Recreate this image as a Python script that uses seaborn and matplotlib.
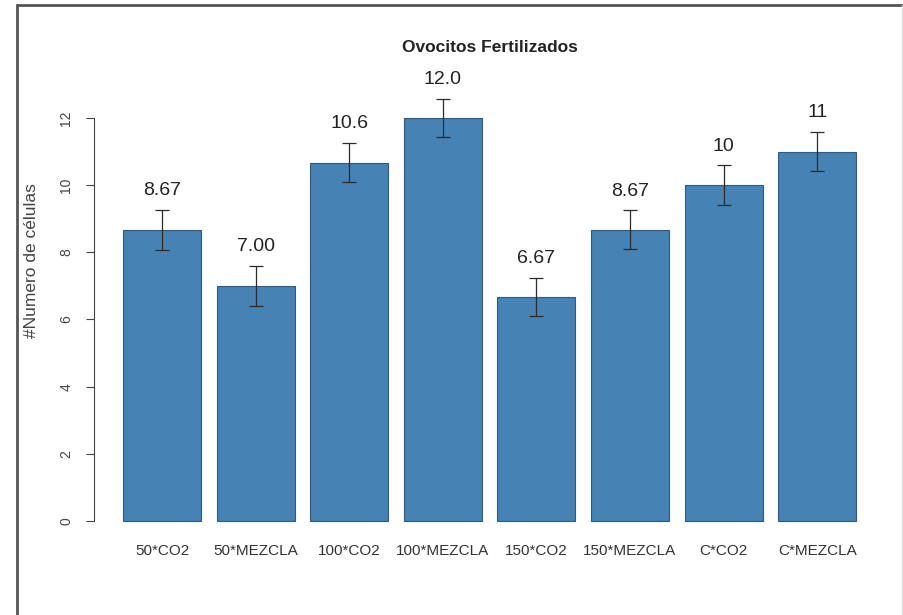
import matplotlib
matplotlib.use('Agg')
import matplotlib.pyplot as plt
import pandas as pd
import seaborn as sns
from matplotlib.lines import Line2D

# Data
groups = ['50*CO2', '50*MEZCLA', '100*CO2', '100*MEZCLA',
          '150*CO2', '150*MEZCLA', 'C*CO2', 'C*MEZCLA']
means = [8.67, 7.00, 10.67, 12.00, 6.67, 8.67, 10.00, 11.00]
se = [0.59, 0.60, 0.59, 0.58, 0.58, 0.58, 0.59, 0.59]
value_labels = ['8.67', '7.00', '10.6', '12.0', '6.67', '8.67', '10', '11']
y_ticks = [0, 2, 4, 6, 8, 10, 12]

df = pd.DataFrame({'grupo': groups, 'media': means, 'se': se})

sns.set_style('white')
plt.rcParams['font.family'] = ['Liberation Sans', 'DejaVu Sans']

fig = plt.figure(figsize=(9.04, 6.15), dpi=100)
ax = fig.add_axes([0.1037, 0.1267, 0.8758, 0.7633])

sns.barplot(data=df, x='grupo', y='media', color='#4682B4', saturation=1,
            width=0.833, edgecolor='#2c5a85', linewidth=0.8,
            errorbar=None, ax=ax)

ax.errorbar(x=range(len(groups)), y=df['media'], yerr=df['se'], fmt='none',
            ecolor='#2b2b2b', elinewidth=0.9, capsize=4.7, capthick=0.9,
            clip_on=False)

for i, (m, s, lab) in enumerate(zip(means, se, value_labels)):
    ax.text(i, m + s + 0.57, lab, ha='center', va='center',
            fontsize=14, color='#222222')

ax.set_xlim(-0.73, 7.73)
ax.set_ylim(-0.48, 13.5)
ax.set_yticks(y_ticks)
ax.set_yticklabels([str(t) for t in y_ticks], rotation=90, va='center',
                   fontsize=10, color='#444444')

for side in ['top', 'right', 'bottom']:
    ax.spines[side].set_visible(False)
ax.spines['left'].set_bounds(0, 12)
ax.spines['left'].set_color('#444444')
ax.spines['left'].set_linewidth(0.8)

ax.tick_params(axis='y', direction='out', length=5.8, width=0.8,
               color='#444444', pad=9, left=True)
ax.tick_params(axis='x', length=0, pad=5, labelsize=11, labelcolor='#333333')

ax.set_xlabel('')
ax.set_ylabel('#Numero de células', fontsize=12.5, color='#444444')
ax.yaxis.set_label_coords(-0.069, 0.59)

ax.set_title('Ovocitos Fertilizados', fontsize=12.5, fontweight='bold',
             color='#222222', pad=11)

# outer frame of the viewer pane
fig.add_artist(Line2D([17 / 904, 1], [1 - 5 / 615, 1 - 5 / 615],
                      transform=fig.transFigure, color='#555555', lw=2))
fig.add_artist(Line2D([17 / 904, 17 / 904], [0, 1 - 5 / 615],
                      transform=fig.transFigure, color='#555555', lw=2))
fig.add_artist(Line2D([902 / 904, 902 / 904], [0, 1 - 5 / 615],
                      transform=fig.transFigure, color='#dddddd', lw=1))

fig.savefig('out.png', dpi=100)
